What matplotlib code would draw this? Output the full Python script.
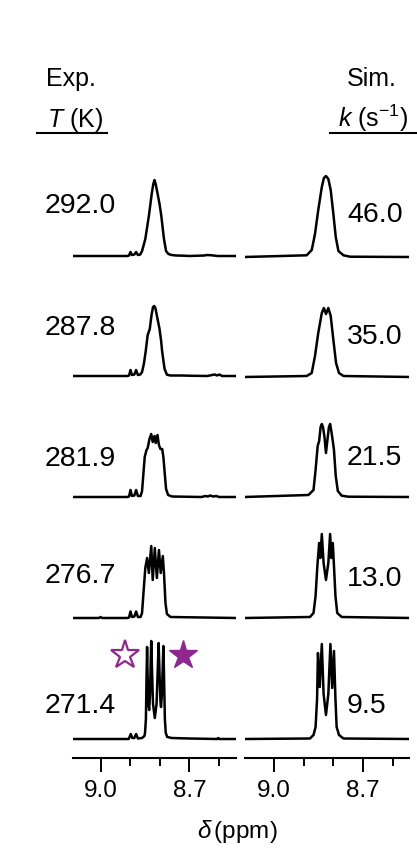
import matplotlib
matplotlib.use('Agg')
from matplotlib import pyplot as plt
from matplotlib.lines import Line2D
from matplotlib.ticker import FixedLocator, MultipleLocator

plt.rcParams['font.family'] = ['Liberation Sans', 'DejaVu Sans']
plt.rcParams['mathtext.fontset'] = 'custom'
plt.rcParams['mathtext.rm'] = 'Liberation Sans'
plt.rcParams['mathtext.it'] = 'Liberation Sans:italic'

# row labels
temps = ['292.0', '287.8', '281.9', '276.7', '271.4']
rates = ['46.0', '35.0', '21.5', '13.0', '9.5']

# experimental spectra: delta (ppm) and intensity (a.u.)
exp_292_ppm = [9.10, 8.910, 8.904, 8.899, 8.894, 8.886, 8.880, 8.874, 8.866, 8.860,
               8.849, 8.837, 8.827, 8.822, 8.818, 8.814, 8.808, 8.801, 8.795, 8.790,
               8.786, 8.779, 8.771, 8.760, 8.745, 8.720, 8.700, 8.650, 8.640, 8.625,
               8.605, 8.54]
exp_292_int = [0, 0, 0.5, 4, 1, 1.5, 4, 1, 1.5, 5,
               17, 40, 63, 72, 76, 72, 63, 52, 40, 27,
               17, 5, 2, 1, 0.5, 0.3, 0, 0.5, 1, 0.7,
               0, 0]

exp_288_ppm = [9.10, 8.910, 8.904, 8.899, 8.894, 8.886, 8.880, 8.874, 8.866, 8.860,
               8.854, 8.848, 8.841, 8.834, 8.828, 8.823, 8.819, 8.815, 8.809, 8.801,
               8.796, 8.792, 8.784, 8.776, 8.765, 8.725, 8.703, 8.640, 8.615, 8.607,
               8.599, 8.590, 8.54]
exp_288_int = [0, 0, 0.5, 6, 1, 1.5, 6, 1, 1.5, 4,
               12, 24, 41, 47, 61, 69, 70, 68, 59, 47,
               36, 24, 7, 1.3, 0.5, 0.5, 0.3, 0, 1.5, 0.5,
               1.5, 0, 0]

exp_282_ppm = [9.10, 8.910, 8.904, 8.899, 8.894, 8.886, 8.880, 8.874, 8.865, 8.860,
               8.855, 8.851, 8.845, 8.841, 8.835, 8.829, 8.824, 8.818, 8.814, 8.808,
               8.803, 8.798, 8.792, 8.788, 8.783, 8.779, 8.772, 8.759, 8.660, 8.646,
               8.638, 8.630, 8.620, 8.610, 8.600, 8.54]
exp_282_int = [0, 0, 0.5, 7, 1, 1.5, 7, 1, 1, 6,
               25, 40, 47, 49, 58, 63, 55, 61, 54, 62,
               52, 48, 48, 40, 22, 8, 2, 0.5, 0, 1,
               0.5, 1.5, 0.5, 1, 0, 0]

exp_277_ppm = [9.10, 9.005, 9.000, 8.995, 8.910, 8.904, 8.899, 8.894, 8.886, 8.880,
               8.874, 8.865, 8.860, 8.854, 8.849, 8.843, 8.837, 8.829, 8.824, 8.817,
               8.810, 8.803, 8.797, 8.790, 8.786, 8.781, 8.776, 8.764, 8.54]
exp_277_int = [0, 0, 1, 0, 0, 0.5, 6.5, 1, 1.5, 6.5,
               1, 1, 5, 30, 50, 60, 45, 72, 38, 70,
               40, 68, 45, 62, 45, 15, 4, 1, 0]

exp_271_ppm = [9.10, 8.905, 8.898, 8.893, 8.886, 8.880, 8.874, 8.860, 8.852, 8.850,
               8.847, 8.845, 8.843, 8.841, 8.838, 8.836, 8.833, 8.831, 8.829, 8.827,
               8.823, 8.817, 8.811, 8.807, 8.804, 8.801, 8.798, 8.796, 8.793, 8.790,
               8.788, 8.786, 8.783, 8.780, 8.775, 8.760, 8.700, 8.606, 8.603, 8.600,
               8.54]
exp_271_int = [0, 0, 5, 1, 1, 5, 0.5, 1, 3, 6,
               20, 60, 92, 60, 33, 29, 45, 75, 98, 75,
               35, 21, 35, 70, 96, 65, 38, 32, 45, 75,
               93, 65, 20, 6, 2, 1, 0.5, 0, 1, 0,
               0]

# simulated spectra
sim_46_ppm = [9.10, 8.890, 8.873, 8.862, 8.851, 8.839, 8.832, 8.825, 8.817, 8.809,
              8.800, 8.792, 8.783, 8.766, 8.744, 8.54]
sim_46_int = [0, 1.7, 7, 23, 47, 70, 79, 81, 78, 67,
              43, 20, 6, 1.7, 0.3, 0]

sim_35_ppm = [9.10, 8.890, 8.873, 8.862, 8.851, 8.839, 8.832, 8.825, 8.817, 8.809,
              8.800, 8.791, 8.781, 8.766, 8.54]
sim_35_int = [0, 1, 4, 21, 44, 64, 69, 63, 69, 61,
              37, 14, 4, 1, 0]

sim_21_ppm = [9.10, 8.884, 8.867, 8.860, 8.853, 8.848, 8.843, 8.839, 8.835, 8.830,
              8.825, 8.819, 8.815, 8.811, 8.807, 8.802, 8.798, 8.792, 8.785, 8.772,
              8.749, 8.54]
sim_21_int = [0, 2, 7, 27, 51, 56, 70, 73, 70, 60,
              44, 60, 70, 73, 66, 56, 47, 21, 6, 1.3,
              0.3, 0]

sim_13_ppm = [9.10, 8.879, 8.867, 8.860, 8.854, 8.848, 8.844, 8.839, 8.833, 8.825,
              8.817, 8.811, 8.807, 8.802, 8.798, 8.793, 8.787, 8.772, 8.54]
sim_13_int = [0, 1, 5, 22, 52, 75, 60, 84, 55, 38,
              55, 84, 60, 75, 52, 22, 5, 1, 0]

sim_9_ppm = [9.10, 8.879, 8.867, 8.860, 8.855, 8.852, 8.846, 8.839, 8.833, 8.825,
             8.817, 8.810, 8.804, 8.798, 8.793, 8.789, 8.781, 8.766, 8.54]
sim_9_int = [0, 0.5, 4, 12, 40, 86, 52, 95, 45, 24,
             45, 95, 51, 88, 40, 12, 4, 0.5, 0]

exp_spectra = [(exp_292_ppm, exp_292_int), (exp_288_ppm, exp_288_int),
               (exp_282_ppm, exp_282_int), (exp_277_ppm, exp_277_int),
               (exp_271_ppm, exp_271_int)]
sim_spectra = [(sim_46_ppm, sim_46_int), (sim_35_ppm, sim_35_int),
               (sim_21_ppm, sim_21_int), (sim_13_ppm, sim_13_int),
               (sim_9_ppm, sim_9_int)]

W, H = 417, 851
purple = '#8e278f'


def box(x0, x1, ytop, ybot):
    return [x0 / W, 1 - ybot / H, (x1 - x0) / W, (ybot - ytop) / H]


def fx(x):
    return x / W


def fy(y):
    return 1 - y / H


spine_y = 758
top_y = 140
fig = plt.figure(figsize=(W / 100, H / 100), dpi=100)
ax_exp = fig.add_axes(box(73, 236, top_y, spine_y))
ax_sim = fig.add_axes(box(245, 409, top_y, spine_y))

# baselines of the rows (pixel rows from top)
exp_base = [256, 376, 497, 618, 739]
sim_base = [257, 377, 497, 618, 739]

for (ppm, inten), b in zip(exp_spectra, exp_base):
    ax_exp.plot(ppm, [v + spine_y - b for v in inten], color='black', lw=1.8,
                solid_joinstyle='round')
for (ppm, inten), b in zip(sim_spectra, sim_base):
    ax_sim.plot(ppm, [v + spine_y - b for v in inten], color='black', lw=1.8,
                solid_joinstyle='round')

ax_exp.set_xlim(9.093, 8.543)
ax_sim.set_xlim(9.098, 8.545)

for ax in (ax_exp, ax_sim):
    ax.set_ylim(0, spine_y - top_y)
    ax.set_yticks([])
    for s in ('left', 'right', 'top'):
        ax.spines[s].set_visible(False)
    ax.spines['bottom'].set_linewidth(1.5)
    ax.xaxis.set_major_locator(FixedLocator([9.0, 8.7]))
    ax.xaxis.set_minor_locator(MultipleLocator(0.1))
    ax.xaxis.set_major_formatter(plt.FormatStrFormatter('%.1f'))
    ax.tick_params(axis='x', which='major', direction='out', length=10, width=1.4,
                   labelsize=17.5, pad=6)
    ax.tick_params(axis='x', which='minor', direction='out', length=5.5, width=1.4)
    ax.patch.set_alpha(0)

# stars on the slowest-exchange experimental spectrum
ax_exp.plot([8.916], [spine_y - 655], marker='*', ms=21, mfc='white', mec=purple,
            mew=1.6, ls='none')
ax_exp.plot([8.721], [spine_y - 655], marker='*', ms=21, mfc=purple, mec=purple,
            ls='none')

# headers
fig.text(fx(46), fy(86), 'Exp.', fontsize=18, va='baseline', ha='left')
fig.text(fx(47), fy(127), r'$T$ (K)', fontsize=18, va='baseline', ha='left')
fig.text(fx(347), fy(86), 'Sim.', fontsize=18, va='baseline', ha='left')
fig.text(fx(338), fy(127), r'$k$ (s$^{-1}$)', fontsize=18, va='baseline', ha='left')
fig.add_artist(Line2D([fx(37), fx(107)], [fy(133), fy(133)], color='black', lw=1.5))
fig.add_artist(Line2D([fx(330), fx(417)], [fy(133), fy(133)], color='black', lw=1.5))

# row labels
exp_lab_y = [213, 335, 466, 583, 713]
sim_lab_y = [222, 344, 465, 586, 713]
for t, y in zip(temps, exp_lab_y):
    fig.text(fx(45), fy(y), t, fontsize=20.5, va='baseline', ha='left')
for r, y in zip(rates, sim_lab_y):
    fig.text(fx(347), fy(y), r, fontsize=20.5, va='baseline', ha='left')

fig.text(fx(237.5), fy(838), r'$\delta\,$(ppm)', fontsize=17.5, va='baseline', ha='center')

fig.savefig('out.png', dpi=100)
